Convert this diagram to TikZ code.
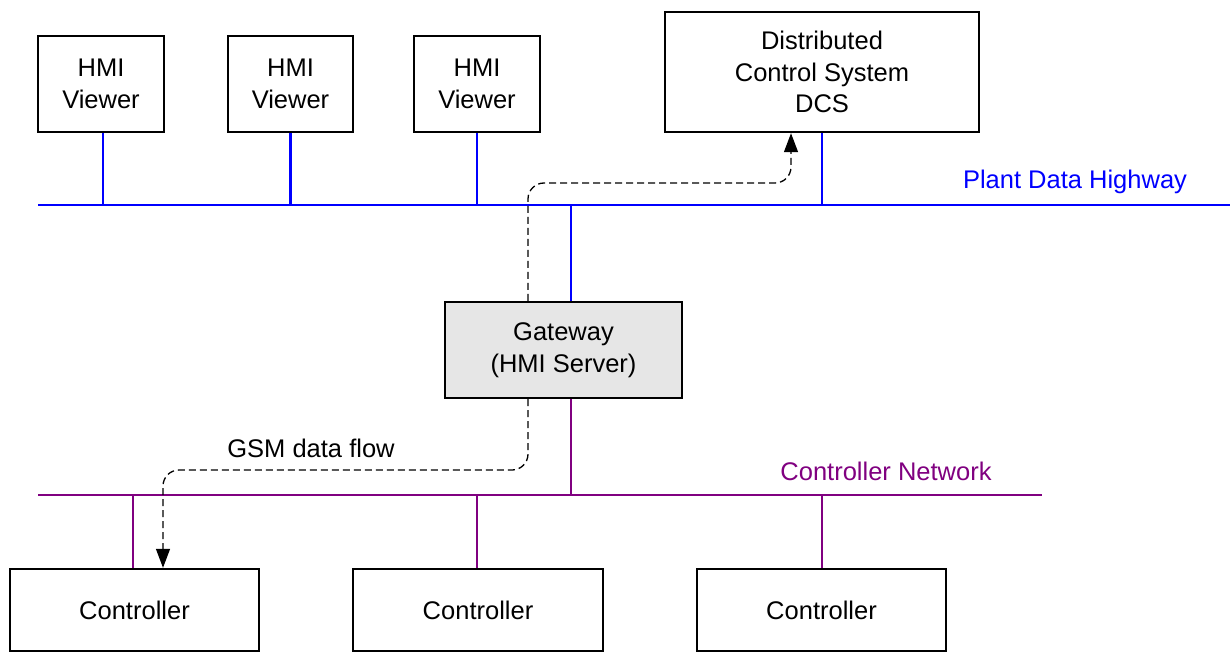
\documentclass[tikz,border=0pt]{standalone}
\usepackage{fontspec}
\setmainfont{Liberation Sans}
\usetikzlibrary{arrows.meta,calc}
\definecolor{netpurple}{RGB}{128,0,128}
\definecolor{gwgray}{RGB}{230,230,230}
\begin{document}
\begin{tikzpicture}[x=1pt,y=-1pt,
  txt/.style={font=\fontsize{25.5}{31.5}\selectfont},
  box/.style={txt,draw=black,line width=2.4pt,fill=white,inner sep=0pt,align=center},
  hw/.style={draw=blue,line width=2.6pt},
  cn/.style={draw=netpurple,line width=2.6pt},
  flow/.style={draw=black,line width=1.3pt,dash pattern=on 7pt off 4pt,rounded corners=16pt,-{Triangle[length=19pt,width=14pt]}}
]
\useasboundingbox (0,0) rectangle (1230,652);
% HMI viewers
\node[box,minimum width=126pt,minimum height=96pt] (h1) at (101,84) {HMI\\Viewer};
\node[box,minimum width=125pt,minimum height=96pt] (h2) at (290.5,84) {HMI\\Viewer};
\node[box,minimum width=126pt,minimum height=96pt] (h3) at (477,84) {HMI\\Viewer};
\node[box,minimum width=314pt,minimum height=120pt] (dcs) at (822,72) {Distributed\\Control System\\DCS};
% Gateway
\node[box,fill=gwgray,minimum width=237pt,minimum height=96pt] (gw) at (563.5,350) {Gateway\\(HMI Server)};
% Controllers
\node[box,minimum width=249pt,minimum height=82pt] (c1) at (134.5,610) {Controller};
\node[box,minimum width=250pt,minimum height=82pt] (c2) at (478,610) {Controller};
\node[box,minimum width=249pt,minimum height=82pt] (c3) at (821.5,610) {Controller};
% Plant data highway
\coordinate (hwL) at (38,205);
\coordinate (hwR) at (1230,205);
\draw[hw] (hwL) -- (hwR);
\draw[hw] ([xshift=2pt]h1.south) -- ([xshift=2pt]h1.south |- hwL);
\draw[hw] (h2.south) -- (h2.south |- hwL);
\draw[hw] (h3.south) -- (h3.south |- hwL);
\draw[hw] (dcs.south) -- (dcs.south |- hwL);
\draw[hw] ([xshift=7.5pt]gw.north) -- ([xshift=7.5pt]gw.north |- hwL);
\node[txt,text=blue,inner sep=0pt] (hwlab) at (1075,182) {Plant Data Highway};
% Controller network
\coordinate (cnL) at (38,495);
\coordinate (cnR) at (1042,495);
\draw[cn] (cnL) -- (cnR);
\draw[cn] ([xshift=7.5pt]gw.south) -- ([xshift=7.5pt]gw.south |- cnL);
\draw[cn] ([xshift=-1.5pt]c1.north) -- ([xshift=-1.5pt]c1.north |- cnL);
\draw[cn] ([xshift=-1pt]c2.north) -- ([xshift=-1pt]c2.north |- cnL);
\draw[cn] ([xshift=0.5pt]c3.north) -- ([xshift=0.5pt]c3.north |- cnL);
\node[txt,text=netpurple,inner sep=0pt] (cnlab) at (886,471) {Controller Network};
% GSM data flow
\coordinate (upturn) at (791,183);
\coordinate (downturn) at (163,470);
\draw[flow] ([xshift=-35.5pt]gw.north) |- (upturn) -- (upturn |- dcs.south);
\draw[flow] ([xshift=-35.5pt]gw.south) |- (downturn) -- (downturn |- c1.north);
\node[txt,inner sep=0pt] (gsm) at (311,448) {GSM data flow};
\end{tikzpicture}
\end{document}
